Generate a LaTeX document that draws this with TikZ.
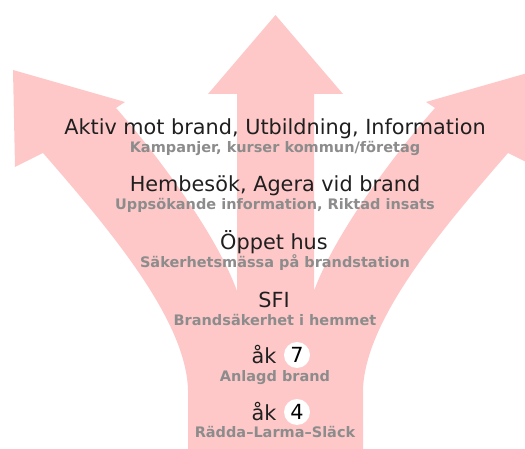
\documentclass[tikz,border=0pt]{standalone}
\usepackage{fontspec}
\setmainfont{DejaVu Sans}
\definecolor{flame}{RGB}{255,200,200}
\definecolor{subgray}{RGB}{140,140,140}
\tikzset{headline/.style={text=black!88,font=\fontsize{20.8}{25}\selectfont,
                          anchor=base,inner sep=0pt}}
\tikzset{subline/.style={text=subgray,font=\bfseries\fontsize{14.5}{17}\selectfont,
                         anchor=base,inner sep=0pt}}

\begin{document}
\begin{tikzpicture}[x=1pt,y=-1pt]
    \tikzstyle{yearbadge}=[circle,fill=white,minimum size=26pt,inner sep=0pt,
                           font=\fontsize{20.8}{25}\selectfont]
    \useasboundingbox (0,0) rectangle (525,449);

    % The pink three-way arrow (one trunk, three heads)
    \fill[flame] (188,449) -- (188,390)
        .. controls (186,320) and (110,230) .. (43,153)
        -- (15,167) -- (13,70) -- (125,102) -- (116,108)
        .. controls (149,145) and (215,230) .. (237,291)
        -- (237,94) -- (208,94) -- (275.5,15) -- (343,94) -- (314,94)
        -- (314,291)
        .. controls (336,230) and (402,145) .. (435,108)
        -- (426,102) -- (538,70) -- (536,167) -- (508,153)
        .. controls (441,230) and (365,320) .. (363,390)
        -- (363,449) -- cycle;

    % Steps, from the top
    \node[headline] (t1) at (275,135) {Aktiv mot brand, Utbildning, Information};
    \node[subline]  (s1) at (275,153) {Kampanjer, kurser kommun/företag};
    \node[headline] (t2) at (275,192) {Hembesök, Agera vid brand};
    \node[subline]  (s2) at (275,210) {Uppsökande information, Riktad insats};
    \node[headline] (t3) at (274,250) {Öppet hus};
    \node[subline]  (s3) at (275,268) {Säkerhetsmässa på brandstation};
    \node[headline] (t4) at (274,307) {SFI};
    \node[subline]  (s4) at (275,325) {Brandsäkerhet i hemmet};

    % School years
    \foreach \n / \y in {7/363,4/420}
    {
        \node[headline] (ak\n) at (264,\y) {åk};
        \node[yearbadge] (n\n) at (297,\y-8) {\n};
    }
    \node[subline]  (s5) at (275,381) {Anlagd brand};
    \node[subline]  (s6) at (275,437) {Rädda–Larma–Släck};
\end{tikzpicture}
\end{document}
